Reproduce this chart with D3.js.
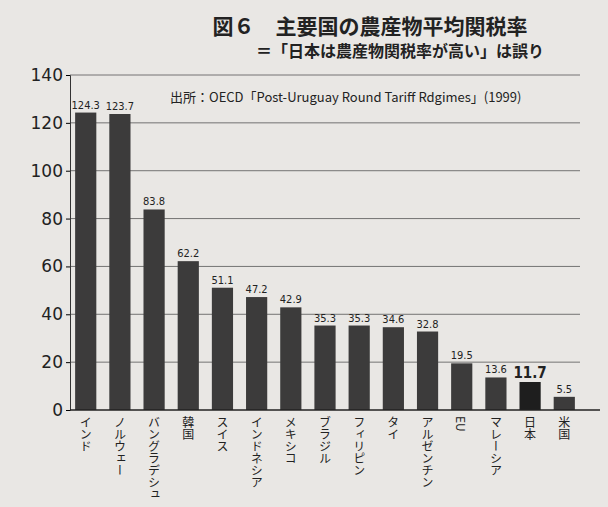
<!DOCTYPE html>
<html><head><meta charset="utf-8">
<script src="https://cdn.jsdelivr.net/npm/d3@7"></script>
<style>body{margin:0;background:#e9e7e4;}svg{font-family:"Noto Sans CJK JP",sans-serif;}</style>
</head><body><div id="chart"></div>
<script>
var countries = ["インド","ノルウェー","バングラデシュ","韓国","スイス","インドネシア","メキシコ","ブラジル","フィリピン","タイ","アルゼンチン","EU","マレーシア","日本","米国"];
var rates = [124.3,123.7,83.8,62.2,51.1,47.2,42.9,35.3,35.3,34.6,32.8,19.5,13.6,11.7,5.5];
var yTicks = [0,20,40,60,80,100,120,140];

var margin = {top: 75, right: 28, bottom: 97, left: 70},
    width = 608 - margin.left - margin.right,
    height = 507 - margin.top - margin.bottom;

var svg = d3.select("#chart").append("svg")
    .attr("width", 608).attr("height", 507);

svg.append("text").attr("x", 370).attr("y", 34).attr("text-anchor", "middle")
    .attr("font-size", 21).attr("font-weight", "bold").attr("fill", "#222")
    .text("図６　主要国の農産物平均関税率");
svg.append("text").attr("x", 400).attr("y", 57).attr("text-anchor", "middle")
    .attr("font-size", 16).attr("font-weight", "bold").attr("fill", "#222")
    .text("＝「日本は農産物関税率が高い」は誤り");

var g = svg.append("g").attr("transform", "translate(" + margin.left + "," + margin.top + ")");

var x = d3.scaleBand().domain(countries).range([0, width]).paddingInner(0.38).paddingOuter(0.15);
var y = d3.scaleLinear().domain([0, 140]).range([height, 0]);

g.selectAll(".grid").data(yTicks.slice(1)).enter().append("line")
    .attr("x1", 0).attr("x2", width).attr("y1", d => y(d)).attr("y2", d => y(d))
    .attr("stroke", "#555").attr("stroke-width", 0.8);

var ya = g.append("g").call(d3.axisLeft(y).tickValues(yTicks).tickSize(4));
ya.selectAll("text").attr("font-size", 17).attr("fill", "#222").attr("font-family", "DejaVu Sans");
ya.select(".domain").attr("stroke", "#333");

g.append("text").attr("x", 100).attr("y", 27).attr("font-size", 13).attr("fill", "#222")
    .attr("font-family", "Noto Sans CJK JP")
    .text("出所：OECD「Post-Uruguay Round Tariff Rdgimes」(1999)");

g.selectAll(".bar").data(rates).enter().append("rect")
    .attr("x", (d, i) => x(countries[i])).attr("width", x.bandwidth())
    .attr("y", d => y(d)).attr("height", d => height - y(d))
    .attr("fill", (d, i) => countries[i] == "日本" ? "#1e1e1e" : "#3c3b3b");

g.selectAll(".val").data(rates).enter().append("text")
    .attr("x", (d, i) => x(countries[i]) + x.bandwidth() / 2).attr("y", d => y(d) - 4)
    .attr("text-anchor", "middle").attr("fill", "#222")
    .attr("font-size", (d, i) => countries[i] == "日本" ? 15 : 11)
    .attr("font-weight", (d, i) => countries[i] == "日本" ? "bold" : "normal")
    .attr("font-family", "DejaVu Sans Condensed")
    .text(d => d);

g.append("line").attr("x1", 0).attr("x2", width + 20).attr("y1", height).attr("y2", height)
    .attr("stroke", "#222").attr("stroke-width", 1.5);

g.selectAll(".lab").data(countries).enter().append("text")
    .attr("transform", d => "translate(" + (x(d) + x.bandwidth() / 2) + "," + (height + 6) + ")")
    .style("writing-mode", "vertical-rl").attr("font-size", 12).attr("fill", "#222")
    .text(d => d);
</script></body></html>
